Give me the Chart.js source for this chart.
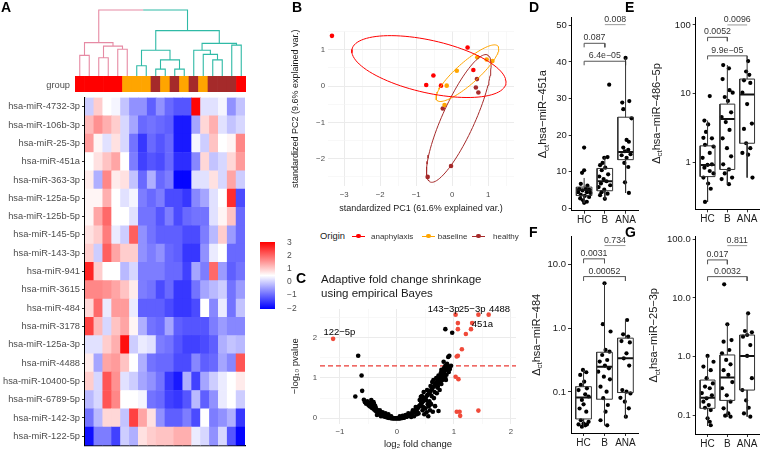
<!DOCTYPE html>
<html>
<head>
<meta charset="utf-8">
<script src="https://cdn.jsdelivr.net/npm/chart.js@4.4.0/dist/chart.umd.min.js"></script>
<style>
  body { margin: 0; width: 763px; height: 453px; background: #fff; position: relative; overflow: hidden;
         font-family: "Liberation Sans", Arial, sans-serif; }
  .c { position: absolute; }
  .t { position: absolute; white-space: nowrap; line-height: 12px; }
  .letter { position: absolute; font-weight: bold; font-size: 14px; line-height: 14px; color: #000; }
  .g { position: absolute; }
</style>
</head>
<body>
<canvas class="c" id="dendro" width="171" height="67" style="left:75px;top:9px"></canvas>
<canvas class="c" id="groupBar" width="171" height="16" style="left:75px;top:76px"></canvas>
<canvas class="c" id="heat" width="250" height="363" style="left:0px;top:90px"></canvas>
<canvas class="c" id="heatLegend" width="45" height="85" style="left:255px;top:233px"></canvas>
<canvas class="c" id="pca" width="230" height="200" style="left:290px;top:20px"></canvas>
<canvas class="c" id="volcano" width="230" height="153" style="left:290px;top:300px"></canvas>
<canvas class="c" id="boxD" width="117" height="215" style="left:525px;top:10px"></canvas>
<canvas class="c" id="boxE" width="118" height="215" style="left:645px;top:10px"></canvas>
<canvas class="c" id="boxF" width="117" height="225" style="left:525px;top:228px"></canvas>
<canvas class="c" id="boxG" width="118" height="225" style="left:645px;top:228px"></canvas>

<div class="t" style="left:30px;top:78.5px;width:40px;text-align:right;font-size:9.3px;color:#4d4d4d">group</div>

<!-- PCA legend -->
<div class="t" style="left:320px;top:230px;font-size:9.4px;color:#1a1a1a">Origin</div>
<div class="g" style="left:351.7px;top:235.5px;width:13.3px;height:1px;background:#ff0000"></div>
<div class="g" style="left:356.3px;top:233.7px;width:4.6px;height:4.6px;border-radius:50%;background:#ff0000"></div>
<div class="t" style="left:371px;top:230.5px;font-size:8px;color:#333">anaphylaxis</div>
<div class="g" style="left:421.7px;top:235.5px;width:13.3px;height:1px;background:#ffa500"></div>
<div class="g" style="left:426.3px;top:233.7px;width:4.6px;height:4.6px;border-radius:50%;background:#ffa500"></div>
<div class="t" style="left:437.7px;top:230.5px;font-size:8px;color:#333">baseline</div>
<div class="g" style="left:471.7px;top:235.5px;width:13.3px;height:1px;background:#a52a2a"></div>
<div class="g" style="left:476.3px;top:233.7px;width:4.6px;height:4.6px;border-radius:50%;background:#a52a2a"></div>
<div class="t" style="left:493px;top:230.5px;font-size:8px;color:#333">healthy</div>

<div class="t" style="left:321px;top:272px;font-size:11.5px;line-height:14px;color:#1a1a1a">Adaptive fold change shrinkage<br>using empirical Bayes</div>

<div class="letter" style="left:1px;top:0px">A</div>
<div class="letter" style="left:292px;top:0px">B</div>
<div class="letter" style="left:296px;top:271px">C</div>
<div class="letter" style="left:529px;top:0px">D</div>
<div class="letter" style="left:625px;top:0px">E</div>
<div class="letter" style="left:529px;top:225px">F</div>
<div class="letter" style="left:625px;top:225px">G</div>

<script>
// --- A: heatmap data ---
const heatRows = ['hsa-miR-4732-3p', 'hsa-miR-106b-3p', 'hsa-miR-25-3p', 'hsa-miR-451a', 'hsa-miR-363-3p',
  'hsa-miR-125a-5p', 'hsa-miR-125b-5p', 'hsa-miR-145-5p', 'hsa-miR-143-3p', 'hsa-miR-941', 'hsa-miR-3615',
  'hsa-miR-484', 'hsa-miR-3178', 'hsa-miR-125a-3p', 'hsa-miR-4488', 'hsa-miR-10400-5p', 'hsa-miR-6789-5p',
  'hsa-miR-142-3p', 'hsa-miR-122-5p'];
const heatGroups = ['anaphylaxis', 'anaphylaxis', 'anaphylaxis', 'anaphylaxis', 'anaphylaxis', 'baseline',
  'baseline', 'baseline', 'healthy', 'baseline', 'healthy', 'baseline', 'healthy', 'baseline', 'healthy',
  'healthy', 'healthy', 'anaphylaxis'];
const heatValues = [
  [0, 1, 0.5, 0.4, -0.1, -0.6, -0.6, -1.1, -0.6, -1.0, -1.2, -1.2, 3, 0.2, 0.2, 0.4, -0.6, -0.1],
  [1.2, 1.6, 1.3, 1.0, 0.1, -0.4, -1.0, -0.9, -1.0, -1.1, -1.8, -1.8, -0.4, 0.9, 1.3, 0.2, -0.1, 0.1],
  [1.5, 0.6, 0.2, 0.8, 0.1, -0.9, -1.5, -1.0, -1.2, -1.0, -1.8, -1.8, 0.4, 0.0, 1.1, 0.5, 0.6, 1.7],
  [0.5, 0.8, 1.1, 1.4, 0.5, -0.8, -1.4, -1.2, -1.3, -1.0, -1.6, -1.6, -0.7, 0.9, -0.1, 0.1, 0.9, 1.5],
  [0.7, -0.3, 1.7, 0.7, 0.8, -0.1, -1.0, -0.3, -1.0, -0.8, -2.0, -2.0, 0.2, 0.2, 0.8, 0.1, 1.4, 0.0],
  [0.6, 0.6, 1.3, 0.5, 0.2, 0.4, -0.8, -1.0, -0.8, -1.3, -1.3, -1.5, -0.7, -0.4, 0.2, 0.5, 2.6, -1.3],
  [0.6, 1.4, 2.0, 0.5, 0.5, 0.2, -0.9, -0.9, -1.2, -0.8, -1.3, -1.0, -0.9, -0.9, 0.2, 0.6, 1.1, -1.0],
  [0.8, 1.0, 1.8, 0.3, 0.0, 2.1, -0.6, -0.9, -1.1, -1.1, -1.1, -1.3, -1.3, -0.8, -0.2, 1.0, -0.5, -1.0],
  [1.0, 0.0, 2.1, 1.4, 1.0, 1.0, -0.6, -0.8, -0.6, -1.0, -1.1, -1.5, -1.5, -0.6, 0.3, 0.5, -1.0, -1.0],
  [2.7, 1.0, 0.5, 0.5, -0.2, 0.1, -0.8, -0.8, -0.8, -1.0, -1.0, -1.4, -0.4, -0.8, 2.0, -0.5, -1.1, -0.9],
  [1.7, 1.7, 1.6, 1.4, 1.1, 0.7, -0.8, -0.9, -1.3, -1.0, -1.5, -1.5, -0.9, -0.4, -0.2, 0.0, -0.9, -0.5],
  [0.9, 2.0, 0.3, 1.5, 1.5, 0.3, -1.1, -1.1, -1.1, -1.3, -1.5, -1.5, -1.3, 0.5, -0.7, 0.3, -0.9, -0.1],
  [2.4, 1.2, 0.1, 1.1, 1.4, 0.6, -0.3, -0.9, -1.0, -0.4, -1.1, -1.2, -1.2, -1.2, -0.8, -0.5, -0.7, -0.7],
  [0.2, 0.2, 1.0, 1.3, 2.9, 0.0, 0.3, 0.2, -0.8, -0.9, -1.2, -1.4, -1.4, -1.3, -1.1, -0.3, -0.1, -0.2],
  [0.7, -0.4, 1.4, 1.5, 1.1, 0.5, -0.3, -0.9, -1.0, -1.0, -1.3, -1.3, -0.7, -1.1, -1.0, -0.4, -0.7, 2.2],
  [1.0, 0.1, 2.2, 1.6, 0.2, 0.0, -0.4, -0.6, -0.9, -1.5, -1.8, -0.3, -1.4, -0.4, 0.0, 0.3, 0.5, 0.7],
  [-0.2, 0.1, 2.2, 1.7, 0.5, 0.5, 0.4, -0.9, -1.0, -1.4, -1.5, -1.2, -0.2, -1.1, -0.6, 0.3, 0.5, 0.0],
  [-0.9, -0.2, 0.9, 0.9, -0.1, 2.4, 1.4, 0.8, -0.6, -1.1, -1.1, -0.8, -1.3, 0.5, -0.8, -0.6, -0.3, -1.5],
  [-1.9, -0.8, -0.8, -1.4, 0.0, -0.3, 0.8, 1.0, 1.1, 1.1, 1.3, 1.3, 0.3, 0.1, -0.6, 0.1, -1.2, -2.0]
];
const heatLo = -2.05, heatHi = 3.05;
const heatLegendTicks = [-2, -1, 0, 1, 2, 3];
// column dendrogram, hclust style: negative = leaf (1-based), positive = earlier merge
const dendroMerges = [
  [-1, -2, 60], [-3, -4, 53], [-5, -6, 78], [2, 3, 87], [1, 4, 97],
  [-7, -8, 30], [-9, -10, 20], [-11, -12, 20], [7, 8, 47], [6, 9, 75],
  [-15, -16, 47], [-14, 11, 63], [-13, 12, 75], [-17, -18, 90], [13, 14, 95],
  [10, 15, 132], [5, 16, 192]
];

// --- B: PCA scores ---
const anaPC1 = [-3.34, -0.72, -0.52, -0.31, 0.43, 0.59];
const anaPC2 = [1.38, 0.03, 0.29, 0.01, 1.06, 0.44];
const basePC1 = [-0.15, 0.13, 0.70, 0.96, 1.12, -0.21];
const basePC2 = [0.01, 0.42, 0.79, 0.73, 0.69, -0.52];
const healthyPC1 = [0.69, 0.66, 0.73, -0.26, -0.03, -0.68];
const healthyPC2 = [0.19, -0.04, -0.18, -0.62, -2.20, -2.50];
const ellipseProb = 0.68;

// --- C: volcano (log2 fold change, -log10 p) ---
const volcBlack = [
  [-0.73, 0.54], [-0.68, 1.55], [-0.62, 1.06], [-0.61, 0.68], [-0.58, 0.46], [-0.56, 0.40], [-0.54, 0.36],
  [-0.52, 0.42], [-0.50, 0.33], [-0.48, 0.30], [-0.47, 0.38], [-0.45, 0.27], [-0.44, 0.33], [-0.43, 0.25],
  [-0.42, 0.30], [-0.41, 0.40], [-0.40, 0.22], [-0.39, 0.28], [-0.38, 0.19], [-0.37, 0.25], [-0.36, 0.17],
  [-0.35, 0.21], [-0.34, 0.15], [-0.33, 0.12], [-0.32, 0.18], [-0.31, 0.11], [-0.30, 0.14], [-0.29, 0.09],
  [-0.28, 0.12], [-0.27, 0.08], [-0.26, 0.10], [-0.25, 0.06], [-0.24, 0.08], [-0.23, 0.05], [-0.22, 0.07],
  [-0.21, 0.04], [-0.20, 0.05], [-0.19, 0.03], [-0.18, 0.04], [-0.17, 0.02], [-0.16, 0.03], [-0.15, 0.02],
  [-0.14, 0.01], [-0.13, 0.02], [-0.12, 0.01], [-0.11, 0.01], [-0.10, 0.00], [-0.09, 0.01], [-0.08, 0.00],
  [-0.07, 0.00], [-0.06, 0.00], [-0.05, 0.00], [-0.04, 0.00], [-0.03, 0.00], [-0.02, 0.00], [-0.01, 0.00],
  [0.00, 0.00], [0.01, 0.00], [0.02, 0.00], [0.03, 0.00], [0.04, 0.00], [0.05, 0.00], [0.06, 0.00],
  [0.07, 0.01], [0.08, 0.01], [0.09, 0.01], [0.10, 0.01], [0.11, 0.02], [0.12, 0.02], [0.13, 0.02],
  [0.14, 0.03], [0.15, 0.03], [0.16, 0.04], [0.17, 0.04], [0.18, 0.05], [0.19, 0.06], [0.20, 0.06],
  [0.21, 0.07], [0.22, 0.08], [0.23, 0.09], [0.24, 0.10], [0.25, 0.11], [0.26, 0.12], [0.27, 0.13],
  [0.28, 0.14], [0.29, 0.15], [0.30, 0.16], [0.31, 0.18], [0.32, 0.19], [0.33, 0.20], [0.34, 0.22],
  [0.35, 0.23], [0.36, 0.25], [0.37, 0.26], [0.38, 0.28], [0.39, 0.30], [0.40, 0.31], [0.41, 0.33],
  [0.42, 0.35], [0.43, 0.37], [0.44, 0.39], [0.45, 0.41], [0.46, 0.43], [0.47, 0.45], [0.48, 0.47],
  [0.49, 0.49], [0.50, 0.51], [0.52, 0.55], [0.54, 0.58], [0.56, 0.62], [0.58, 0.66], [0.60, 0.70],
  [0.62, 0.74], [0.64, 0.78], [0.66, 0.82], [0.68, 0.86], [0.70, 0.90], [0.72, 0.94], [0.74, 0.98],
  [0.76, 1.02], [0.78, 1.06], [0.80, 1.10], [0.82, 1.14], [0.84, 1.18], [0.86, 1.22], [0.88, 1.26],
  [0.90, 1.29], [0.30, 0.05], [0.35, 0.10], [0.38, 0.12], [0.40, 0.45], [0.42, 0.53], [0.44, 0.55],
  [0.45, 0.20], [0.46, 0.28], [0.47, 0.65], [0.48, 0.10], [0.50, 0.25], [0.51, 0.45], [0.52, 0.15],
  [0.53, 0.70], [0.54, 0.35], [0.55, 0.05], [0.56, 0.30], [0.57, 0.62], [0.57, 0.42], [0.58, 0.20],
  [0.59, 0.80], [0.60, 0.35], [0.61, 0.55], [0.62, 0.90], [0.63, 0.16], [0.64, 0.95], [0.65, 0.50],
  [0.66, 0.65], [0.67, 0.30], [0.69, 1.00], [0.70, 0.62], [0.71, 0.76], [0.72, 0.80], [0.73, 0.18],
  [0.73, 1.06], [0.74, 0.88], [0.75, 0.70], [0.76, 0.92], [0.77, 1.12], [0.78, 0.85], [0.78, 1.20],
  [0.79, 1.00], [0.80, 0.95], [0.81, 1.16], [0.82, 1.40], [0.83, 1.25], [0.84, 1.05], [0.85, 1.00],
  [0.85, 1.30], [0.86, 0.95], [0.87, 1.08], [0.88, 1.35], [0.89, 1.20], [0.90, 1.52], [0.91, 1.15],
  [0.92, 1.55], [0.93, 1.22], [0.95, 1.30], [0.85, 2.21], [0.97, 2.12], [-0.30, 0.20], [-0.40, 0.35],
  [-0.25, 0.15], [-0.15, 0.10], [0.10, 0.06], [0.20, 0.12], [0.25, 0.03], [-0.35, 0.08], [-0.20, 0.12],
  [-0.45, 0.45], [-0.50, 0.38], [-0.38, 0.30], [-0.28, 0.05], [-0.10, 0.05], [0.05, 0.05], [0.15, 0.08],
  [0.28, 0.20], [0.33, 0.28], [0.36, 0.15]
];
const volcRed = [
  [-1.12, 1.97], [1.03, 2.57], [1.43, 2.57], [1.61, 2.57], [1.32, 2.36], [1.07, 2.36], [1.07, 2.21],
  [1.30, 2.21], [1.21, 2.09], [1.14, 1.71], [1.07, 1.55], [1.05, 1.53], [1.03, 1.03], [1.08, 0.97],
  [1.05, 0.16], [1.10, 0.16], [1.43, 0.19], [1.11, 0.06]
];
const volcLabels = ['122\u22125p', '143\u22123p', '25\u22123p', '4488', '451a'];
const volcLabelX = [-1.01, 0.82, 1.32, 1.80, 1.50];
const volcLabelY = [2.12, 2.71, 2.71, 2.71, 2.32];
const volcAlpha = 0.05;

// --- D-G: box plots ---
const boxCats = ['HC', 'B', 'ANA'];

const dTicks = [0, 10, 20, 30, 40, 50];
const dTickLabels = ['0', '10', '20', '30', '40', '50'];
const dLo = [1.5, 2.6, 4.2], dQ1 = [3.5, 4.8, 13.3], dMed = [5.1, 7.4, 15.4], dQ3 = [5.8, 10.9, 24.9], dHi = [8.3, 14.0, 41.1];
const dHcVal = [16.6, 10.4, 9.7, 6.7, 6.2, 5.3, 5.3, 5.1, 4.9, 4.4, 4.4, 4.2, 3.7, 3.4, 3.1, 2.7, 2.2, 1.8, 1.5];
const dHcJit = [0, 0, -0.1, -0.16, 0.16, -0.24, 0.08, 0.24, -0.08, -0.29, 0.13, 0.3, -0.16, 0.03, 0.24, -0.19, -0.05, 0.13, 0];
const dBVal = [33.8, 14.0, 13.8, 12.4, 11.8, 11.1, 10.4, 9.3, 8.7, 8.0, 7.4, 6.8, 6.3, 5.8, 5.1, 4.4, 4.0, 3.6, 2.6];
const dBJit = [0.21, 0.13, -0.03, -0.11, -0.23, 0.02, -0.15, 0.16, -0.27, -0.06, 0.08, -0.19, 0.26, -0.3, -0.03, -0.16, 0.13, -0.23, 0];
const dAnaVal = [41.1, 28.9, 29.3, 27.1, 24.6, 18.7, 18.2, 16.6, 16.0, 15.6, 14.8, 14.5, 13.8, 12.4, 11.3, 7.1, 4.2];
const dAnaJit = [0, -0.16, 0.18, -0.11, 0.29, 0.05, 0.16, -0.11, 0.13, -0.03, 0.24, -0.19, 0.05, -0.06, 0.13, -0.03, 0.16];
const dBrkFrom = [1, 1, 2], dBrkTo = [2, 3, 3];
const dBrkY = [45.1, 40.2, 50.2], dBrkTip = [44.0, 39.1, 50.2];
const dBrkText = ['0.087', '6.4e\u221205', '0.008'];

const eTicks = [1, 10, 100];
const eTickLabels = ['1', '10', '100'];
const eLo = [0.27, 0.49, 0.61], eQ1 = [0.63, 0.80, 1.92], eMed = [0.93, 4.3, 9.8], eQ3 = [1.76, 7.1, 16.4], eHi = [4.1, 26.2, 29.9];
const eHcVal = [9.3, 4.1, 3.6, 2.8, 2.3, 2.26, 1.82, 1.72, 1.39, 1.18, 0.95, 0.93, 0.85, 0.76, 0.70, 0.61, 0.50, 0.42, 0.27];
const eHcJit = [0.11, -0.16, 0.03, -0.08, -0.21, 0.22, -0.13, 0.3, 0.11, -0.25, 0.22, 0, -0.16, 0.11, 0.3, -0.21, 0.03, 0.16, -0.13];
const eBVal = [26.2, 23.5, 16.4, 11.3, 10.4, 9.0, 7.9, 5.4, 4.6, 3.9, 3.0, 2.26, 1.63, 1.24, 0.95, 0.80, 0.70, 0.61, 0.58, 0.49];
const eBJit = [-0.21, 0.08, -0.24, 0.11, 0.27, -0.13, 0.03, 0.19, -0.29, -0.08, 0.11, -0.24, -0.02, 0.19, -0.21, 0.08, -0.13, 0.24, -0.29, 0.08];
const eAnaVal = [29.9, 21.1, 18.9, 15.7, 14.4, 10.4, 7.1, 3.7, 3.1, 1.92, 1.63, 1.39, 1.31, 0.61];
const eAnaJit = [0.05, -0.05, 0.11, -0.16, 0.16, -0.24, 0, 0.24, -0.16, -0.05, 0.16, -0.24, 0.05, 0.27];
const eBrkFrom = [1, 1, 2], eBrkTo = [2, 3, 3];
const eBrkY = [66.1, 35.6, 100], eBrkTip = [58.1, 31.6, 100];
const eBrkText = ['0.0052', '9.9e\u221205', '0.0096'];

const fTicks = [0.1, 1, 10];
const fTickLabels = ['0.1', '1.0', '10.0'];
const fLo = [0.0285, 0.030, 0.040], fQ1 = [0.0377, 0.077, 0.098], fMed = [0.082, 0.25, 0.34], fQ3 = [0.121, 0.42, 0.70], fHi = [0.222, 5.09, 1.38];
const fHcVal = [0.222, 0.204, 0.185, 0.145, 0.129, 0.114, 0.107, 0.092, 0.085, 0.075, 0.064, 0.055, 0.049, 0.036, 0.034, 0.032, 0.031, 0.030, 0.0285, 0.031];
const fHcJit = [-0.03, 0.13, -0.16, 0.03, -0.13, 0.16, -0.24, 0.08, 0.24, -0.08, 0, -0.19, 0.13, -0.13, 0.24, 0, -0.24, 0.08, -0.08, 0.16];
const fBVal = [5.09, 1.16, 0.89, 0.457, 0.43, 0.381, 0.318, 0.30, 0.26, 0.235, 0.208, 0.174, 0.158, 0.121, 0.101, 0.080, 0.0625, 0.049, 0.036, 0.030];
const fBJit = [0, -0.08, 0.29, 0.05, 0.24, -0.11, 0.13, -0.23, 0.02, 0.21, -0.3, -0.03, 0.26, -0.19, 0.1, -0.06, 0.16, 0.05, -0.19, 0.13];
const fAnaVal = [1.35, 0.805, 0.74, 0.63, 0.60, 0.405, 0.338, 0.26, 0.107, 0.101, 0.095, 0.081, 0.0705, 0.0553, 0.041];
const fAnaJit = [0.08, -0.11, 0.13, -0.19, 0.21, 0.05, -0.08, 0.18, -0.15, 0.05, 0.24, -0.24, -0.03, 0.16, 0.02];
const fBrkFrom = [1, 1, 2], fBrkTo = [2, 3, 3];
const fBrkY = [12.3, 6.48, 19.9], fBrkTip = [10.5, 5.53, 19.9];
const fBrkText = ['0.0031', '0.00052', '0.734'];

const gTicks = [0.1, 1, 10, 100];
const gTickLabels = ['0.1', '1.0', '10.0', '100.0'];
const gLo = [0.066, 0.095, 0.095], gQ1 = [0.132, 0.18, 0.27], gMed = [0.20, 0.44, 1.03], gQ3 = [0.40, 1.07, 2.34], gHi = [1.03, 3.56, 5.48];
const gHcVal = [1.03, 0.82, 0.68, 0.59, 0.43, 0.35, 0.31, 0.29, 0.24, 0.22, 0.195, 0.171, 0.150, 0.135, 0.123, 0.089, 0.078, 0.068];
const gHcJit = [0, 0.3, -0.21, 0.16, -0.05, 0.27, -0.13, 0.11, -0.29, 0.22, -0.05, -0.21, 0.06, -0.13, 0.16, 0, 0.11, 0.16];
const gBVal = [17.1, 3.56, 1.92, 1.80, 1.30, 1.14, 0.88, 0.74, 0.59, 0.49, 0.37, 0.29, 0.22, 0.171, 0.132, 0.108, 0.099, 0.095];
const gBJit = [-0.16, 0, 0.21, -0.19, 0.1, -0.27, -0.06, 0.16, -0.19, 0.05, 0.25, -0.27, -0.03, 0.16, -0.19, 0.05, -0.11, 0.16];
const gAnaVal = [5.48, 2.74, 2.60, 2.34, 2.19, 1.58, 1.03, 0.43, 0.27, 0.18, 0.135, 0.108, 0.095];
const gAnaJit = [0.05, -0.11, 0.24, 0, -0.21, 0.16, 0, 0.24, -0.24, -0.05, 0.08, -0.16, 0.16];
const gBrkFrom = [1, 1, 2], gBrkTo = [2, 3, 3];
const gBrkY = [44.5, 23.1, 78.0], gBrkTip = [37.5, 19.5, 78.0];
const gBrkText = ['0.017', '0.0032', '0.811'];

// --- shared setup ---
const FONT = '"Liberation Sans", Arial, sans-serif';
Chart.defaults.font.family = FONT;
Chart.defaults.animation = false;
Chart.defaults.responsive = false;
Chart.defaults.plugins.legend.display = false;
Chart.defaults.plugins.tooltip.enabled = false;

const groupColors = { anaphylaxis: '#ff0000', baseline: '#ffa500', healthy: '#a52a2a' };
const fmt = v => (v < 0 ? '\u2212' + Math.abs(v) : String(v));

// text at data coordinates
const dataText = {
  id: 'dataText',
  afterDatasetsDraw(chart, args, opts) {
    if (!opts.items) return;
    const { ctx, scales: { x, y } } = chart;
    ctx.save();
    opts.items.forEach(it => {
      ctx.font = `${it.size}px ${FONT}`;
      ctx.fillStyle = it.color || '#000';
      ctx.textAlign = it.align || 'center';
      ctx.textBaseline = it.baseline || 'middle';
      ctx.fillText(it.text, x.getPixelForValue(it.x), y.getPixelForValue(it.y) + (it.dy || 0));
    });
    ctx.restore();
  }
};
// rotated "Δct <name>" axis title
const deltaTitle = {
  id: 'deltaTitle',
  afterDraw(chart, args, opts) {
    if (!opts.text) return;
    const { ctx, chartArea } = chart;
    const cy = (chartArea.top + chartArea.bottom) / 2;
    const big = `${opts.size}px ${FONT}`, small = `${opts.size * 0.72}px ${FONT}`;
    ctx.save();
    ctx.translate(opts.x, cy);
    ctx.rotate(-Math.PI / 2);
    ctx.fillStyle = '#1a1a1a';
    ctx.textBaseline = 'middle';
    ctx.textAlign = 'left';
    ctx.font = big;
    const w1 = ctx.measureText('\u0394').width, w3 = ctx.measureText(opts.text).width;
    ctx.font = small;
    const w2 = ctx.measureText('ct').width;
    let x = -(w1 + w2 + w3) / 2;
    ctx.font = big; ctx.fillText('\u0394', x, 0); x += w1;
    ctx.font = small; ctx.fillText('ct', x, opts.size * 0.3); x += w2;
    ctx.font = big; ctx.fillText(opts.text, x, 0);
    ctx.restore();
  }
};
Chart.register(dataText, deltaTitle);

// colour scale blue - white - red
const heatStops = [[0, 0, 255], [255, 255, 255], [255, 0, 0]];
function heatColor(v) {
  const t = Math.max(0, Math.min(1, (v - heatLo) / (heatHi - heatLo)));
  const [a, b, f] = t < 0.5 ? [heatStops[0], heatStops[1], t / 0.5] : [heatStops[1], heatStops[2], (t - 0.5) / 0.5];
  const c = a.map((va, i) => Math.round(va + (b[i] - va) * f));
  return `rgb(${c[0]},${c[1]},${c[2]})`;
}

// ---------- A: dendrogram ----------
const nMerge = dendroMerges.length;
const mergeX = [], mergeH = [];
const dNode = id => (id < 0 ? { x: -id - 1, h: 0 } : { x: mergeX[id - 1], h: mergeH[id - 1] });
dendroMerges.forEach(([a, b, h], k) => { mergeX[k] = (dNode(a).x + dNode(b).x) / 2; mergeH[k] = h; });
const clusterOf = new Array(nMerge).fill(null);
const rootK = nMerge - 1;
if (dendroMerges[rootK][0] > 0) clusterOf[dendroMerges[rootK][0] - 1] = 0;
if (dendroMerges[rootK][1] > 0) clusterOf[dendroMerges[rootK][1] - 1] = 1;
for (let k = nMerge - 2; k >= 0; k--) {
  const [a, b] = dendroMerges[k];
  if (a > 0) clusterOf[a - 1] = clusterOf[k];
  if (b > 0) clusterOf[b - 1] = clusterOf[k];
}
const dendroPts = [[], []];
dendroMerges.forEach(([a, b, h], k) => {
  const A = dNode(a), B = dNode(b);
  if (k === rootK) {
    const mid = (A.x + B.x) / 2;
    dendroPts[0].push({ x: A.x, y: A.h }, { x: A.x, y: h }, { x: mid, y: h }, { x: mid, y: null });
    dendroPts[1].push({ x: mid, y: h }, { x: B.x, y: h }, { x: B.x, y: B.h }, { x: B.x, y: null });
  } else {
    dendroPts[clusterOf[k]].push({ x: A.x, y: A.h }, { x: A.x, y: h }, { x: B.x, y: h }, { x: B.x, y: B.h }, { x: B.x, y: null });
  }
});
new Chart(document.getElementById('dendro'), {
  type: 'scatter',
  data: {
    datasets: dendroPts.map((pts, i) => ({
      data: pts, showLine: true, pointRadius: 0, borderWidth: 1.1,
      borderColor: i === 0 ? '#e68aa4' : '#2fbaa6', spanGaps: false
    }))
  },
  options: {
    layout: { padding: 0 },
    scales: {
      x: { display: false, min: -0.5, max: heatGroups.length - 0.5 },
      y: { display: false, min: 0, max: 195 }
    }
  }
});

// ---------- A: group bar ----------
new Chart(document.getElementById('groupBar'), {
  type: 'bar',
  data: {
    labels: heatGroups.map((g, i) => i),
    datasets: [{ data: heatGroups.map(() => [0, 1]), backgroundColor: heatGroups.map(g => groupColors[g]), borderWidth: 0 }]
  },
  options: {
    layout: { padding: 0 },
    datasets: { bar: { barPercentage: 1, categoryPercentage: 1 } },
    scales: { x: { display: false }, y: { display: false, min: 0, max: 1 } }
  }
});

// ---------- A: heatmap ----------
new Chart(document.getElementById('heat'), {
  type: 'bar',
  data: {
    labels: heatGroups.map((g, i) => i),
    datasets: heatRows.map((name, r) => ({
      label: name,
      data: heatValues[r].map(() => 1),
      backgroundColor: heatValues[r].map(heatColor),
      borderWidth: 0
    })).reverse()
  },
  options: {
    layout: { padding: { top: 4, right: 5, bottom: 2, left: 0 } },
    datasets: { bar: { barPercentage: 1, categoryPercentage: 1 } },
    scales: {
      x: {
        stacked: true, ticks: { display: false }, grid: { display: false, drawTicks: false },
        border: { display: true, color: '#000', width: 1.2 },
        afterFit: s => { s.height = 0; }
      },
      y: {
        stacked: true, min: 0, max: heatRows.length,
        afterBuildTicks: s => { s.ticks = heatRows.map((_, i) => ({ value: i + 0.5 })); },
        afterFit: s => { s.width = 85; },
        ticks: {
          autoSkip: false, padding: 2, color: '#4d4d4d', font: { size: 9.3 },
          callback: (v, i) => heatRows[heatRows.length - 1 - i]
        },
        grid: { display: true, drawOnChartArea: false, drawTicks: true, tickLength: 3, color: '#333' },
        border: { display: true, color: '#000', width: 1.2 }
      }
    }
  }
});

// ---------- A: colour legend ----------
new Chart(document.getElementById('heatLegend'), {
  type: 'bar',
  data: {
    labels: [''],
    datasets: [{
      data: [[heatLo, heatHi]],
      borderWidth: 0,
      backgroundColor: ctx => {
        const { chart } = ctx;
        if (!chart.chartArea) return '#fff';
        const ys = chart.scales.y;
        const grad = chart.ctx.createLinearGradient(0, ys.getPixelForValue(heatLo), 0, ys.getPixelForValue(heatHi));
        for (let i = 0; i <= 20; i++) grad.addColorStop(i / 20, heatColor(heatLo + (heatHi - heatLo) * i / 20));
        return grad;
      }
    }]
  },
  options: {
    layout: { padding: { left: 5, top: 5, bottom: 5, right: 0 } },
    datasets: { bar: { barPercentage: 1, categoryPercentage: 1 } },
    scales: {
      x: { display: false },
      y: {
        position: 'right', min: heatLo, max: heatHi,
        afterBuildTicks: s => { s.ticks = heatLegendTicks.map(v => ({ value: v })); },
        afterFit: s => { s.width = 25; },
        ticks: { callback: v => fmt(v), color: '#4d4d4d', font: { size: 8.5 }, padding: 4 },
        grid: { display: false }, border: { display: false }
      }
    }
  }
});

// ---------- B: PCA ----------
function dataEllipse(xs, ys) {
  const n = xs.length;
  const mx = xs.reduce((s, v) => s + v, 0) / n, my = ys.reduce((s, v) => s + v, 0) / n;
  let sxx = 0, syy = 0, sxy = 0;
  for (let i = 0; i < n; i++) {
    sxx += (xs[i] - mx) ** 2; syy += (ys[i] - my) ** 2; sxy += (xs[i] - mx) * (ys[i] - my);
  }
  sxx /= n - 1; syy /= n - 1; sxy /= n - 1;
  const r = Math.sqrt(-2 * Math.log(1 - ellipseProb));
  const a = Math.sqrt(sxx), b = sxy / a, c = Math.sqrt(syy - b * b);
  const pts = [];
  for (let i = 0; i <= 100; i++) {
    const t = 2 * Math.PI * i / 100, u = Math.cos(t), v = Math.sin(t);
    pts.push({ x: mx + r * u * a, y: my + r * (u * b + v * c) });
  }
  return pts;
}
const pcaSets = [
  [anaPC1, anaPC2, groupColors.anaphylaxis],
  [basePC1, basePC2, groupColors.baseline],
  [healthyPC1, healthyPC2, groupColors.healthy]
];
const gridColor = c => (Math.abs(c.tick.value - Math.round(c.tick.value)) < 1e-6 ? '#ebebeb' : '#f4f4f4');
const gridWidth = c => (Math.abs(c.tick.value - Math.round(c.tick.value)) < 1e-6 ? 1 : 0.6);
const intLabel = v => (Math.abs(v - Math.round(v)) < 1e-6 ? fmt(Math.round(v)) : '');
const halfTicks = (lo, hi) => { const t = []; for (let v = Math.ceil(lo * 2) / 2; v <= hi + 1e-9; v += 0.5) t.push({ value: v }); return t; };

new Chart(document.getElementById('pca'), {
  type: 'scatter',
  data: {
    datasets: [
      ...pcaSets.map(([xs, ys, col]) => ({ data: dataEllipse(xs, ys), showLine: true, pointRadius: 0, borderColor: col, borderWidth: 1 })),
      ...pcaSets.map(([xs, ys, col]) => ({ data: xs.map((x, i) => ({ x, y: ys[i] })), pointRadius: 2.3, backgroundColor: col, borderWidth: 0 }))
    ]
  },
  options: {
    layout: { padding: { top: 11.5, right: 6, bottom: 4, left: 0 } },
    scales: {
      x: {
        min: -3.45, max: 1.72,
        afterBuildTicks: s => { s.ticks = halfTicks(-3.45, 1.72); },
        afterFit: s => { s.height = 30; },
        ticks: { callback: intLabel, autoSkip: false, maxRotation: 0, color: '#4d4d4d', font: { size: 7.8 }, padding: 4 },
        grid: { color: gridColor, lineWidth: gridWidth, drawTicks: false },
        border: { display: false },
        title: { display: true, text: 'standardized PC1 (61.6% explained var.)', color: '#1a1a1a', font: { size: 9 }, padding: { top: 0, bottom: 2 } }
      },
      y: {
        min: -2.75, max: 1.5,
        afterBuildTicks: s => { s.ticks = halfTicks(-2.75, 1.5); },
        afterFit: s => { s.width = 38; },
        ticks: { callback: intLabel, autoSkip: false, color: '#4d4d4d', font: { size: 7.8 }, padding: 3 },
        grid: { color: gridColor, lineWidth: gridWidth, drawTicks: false },
        border: { display: false },
        title: { display: true, text: 'standardized PC2 (9.6% explained var.)', color: '#1a1a1a', font: { size: 9 }, padding: { top: 0, bottom: 4 } }
      }
    }
  }
});

// ---------- C: volcano ----------
const volcXMin = -1.35, volcXMax = 2.09, volcYMin = -0.13, volcYMax = 2.71;
const volcCut = -Math.log10(volcAlpha);
new Chart(document.getElementById('volcano'), {
  type: 'scatter',
  data: {
    datasets: [
      { data: volcBlack.map(([x, y]) => ({ x, y })), pointRadius: 2.3, backgroundColor: '#000', borderWidth: 0 },
      { data: volcRed.map(([x, y]) => ({ x, y })), pointRadius: 2.3, backgroundColor: '#f04a3a', borderWidth: 0 },
      { data: [{ x: volcXMin, y: volcCut }, { x: volcXMax, y: volcCut }], showLine: true, pointRadius: 0,
        borderColor: '#ea3a34', borderWidth: 1.2, borderDash: [5, 3] }
    ]
  },
  options: {
    layout: { padding: { top: 9, right: 3, bottom: 2.5, left: 0 } },
    plugins: {
      dataText: { items: volcLabels.map((t, i) => ({ text: t, x: volcLabelX[i], y: volcLabelY[i], size: 9.5, color: '#000' })) }
    },
    scales: {
      x: {
        min: volcXMin, max: volcXMax,
        afterBuildTicks: s => { s.ticks = halfTicks(volcXMin, volcXMax); },
        afterFit: s => { s.height = 27; },
        ticks: { callback: intLabel, autoSkip: false, maxRotation: 0, color: '#4d4d4d', font: { size: 7.8 }, padding: 4 },
        grid: { color: gridColor, lineWidth: gridWidth, drawTicks: false },
        border: { display: false },
        title: { display: true, text: 'log\u2082 fold change', color: '#1a1a1a', font: { size: 9.5 }, padding: { top: 0, bottom: 0 } }
      },
      y: {
        min: volcYMin, max: volcYMax,
        afterBuildTicks: s => { s.ticks = halfTicks(volcYMin, volcYMax); },
        afterFit: s => { s.width = 30; },
        ticks: { callback: intLabel, autoSkip: false, color: '#4d4d4d', font: { size: 7.8 }, padding: 3 },
        grid: { color: gridColor, lineWidth: gridWidth, drawTicks: false },
        border: { display: false },
        title: { display: true, text: '\u2212log\u2081\u2080 pvalue', color: '#1a1a1a', font: { size: 9.5 }, padding: { top: 0, bottom: 2 } }
      }
    }
  }
});

// ---------- D-G: box plots ----------
const boxHalf = 0.375;
function boxChart(id, p) {
  const boxPts = [], medPts = [], whPts = [], brkPts = [], topPts = [];
  for (let i = 0; i < 3; i++) {
    const c = i + 1;
    boxPts.push({ x: c - boxHalf, y: p.q1[i] }, { x: c + boxHalf, y: p.q1[i] }, { x: c + boxHalf, y: p.q3[i] },
      { x: c - boxHalf, y: p.q3[i] }, { x: c - boxHalf, y: p.q1[i] }, { x: c, y: null });
    medPts.push({ x: c - boxHalf, y: p.med[i] }, { x: c + boxHalf, y: p.med[i] }, { x: c, y: null });
    whPts.push({ x: c, y: p.q3[i] }, { x: c, y: p.hi[i] }, { x: c, y: null }, { x: c, y: p.q1[i] }, { x: c, y: p.lo[i] }, { x: c, y: null });
  }
  p.brkFrom.forEach((f, j) => {
    const t = p.brkTo[j];
    const target = p.brkTip[j] === p.brkY[j] ? topPts : brkPts;
    target.push({ x: f, y: p.brkTip[j] }, { x: f, y: p.brkY[j] }, { x: t, y: p.brkY[j] }, { x: t, y: p.brkTip[j] }, { x: t, y: null });
  });
  const dots = [];
  p.vals.forEach((arr, g) => arr.forEach((v, k) => dots.push({ x: g + 1 + p.jit[g][k], y: v })));
  const line = (data, col, w) => ({ data, showLine: true, pointRadius: 0, borderColor: col, borderWidth: w, spanGaps: false });
  const axisGrid = { display: true, drawOnChartArea: false, drawTicks: true, tickLength: 3, color: '#333' };
  new Chart(document.getElementById(id), {
    type: 'scatter',
    data: {
      datasets: [
        line(whPts, '#333', 1), line(boxPts, '#333', 1), line(medPts, '#111', 2),
        { data: dots, pointRadius: 2.1, backgroundColor: '#000', borderWidth: 0 },
        line(brkPts, '#555', 1), line(topPts, '#999', 1)
      ]
    },
    options: {
      layout: { padding: p.pad },
      plugins: {
        deltaTitle: { text: p.title, x: p.titleX, size: 11 },
        dataText: {
          items: p.brkText.map((t, j) => ({
            text: t, x: (p.brkFrom[j] + p.brkTo[j]) / 2, y: p.brkY[j], size: 8.8, color: '#333', baseline: 'bottom', dy: -1
          }))
        }
      },
      scales: {
        x: {
          type: 'linear', min: 0.4, max: 3.6,
          afterBuildTicks: s => { s.ticks = boxCats.map((_, i) => ({ value: i + 1 })); },
          afterFit: s => { s.height = p.xH; },
          ticks: { callback: (v, i) => boxCats[i], autoSkip: false, maxRotation: 0, color: '#1a1a1a', font: { size: 10 }, padding: 1 },
          grid: axisGrid,
          border: { display: true, color: '#000', width: 1 }
        },
        y: {
          type: p.log ? 'logarithmic' : 'linear', min: p.min, max: p.max,
          afterBuildTicks: s => { s.ticks = p.ticks.map(v => ({ value: v })); },
          afterFit: s => { s.width = p.yW; },
          ticks: { callback: (v, i) => p.tickLabels[i], autoSkip: false, color: '#1a1a1a', font: { size: 9.5 }, padding: 2 },
          grid: axisGrid,
          border: { display: true, color: '#000', width: 1 }
        }
      }
    }
  });
}

boxChart('boxD', {
  log: false, min: -0.65, max: 52.1, ticks: dTicks, tickLabels: dTickLabels,
  lo: dLo, q1: dQ1, med: dMed, q3: dQ3, hi: dHi,
  vals: [dHcVal, dBVal, dAnaVal], jit: [dHcJit, dBJit, dAnaJit],
  brkFrom: dBrkFrom, brkTo: dBrkTo, brkY: dBrkY, brkTip: dBrkTip, brkText: dBrkText,
  title: 'hsa\u2212miR\u2212451a', titleX: 18.3, yW: 46.7, xH: 14.3, pad: { top: 3.3, right: 3, bottom: 0, left: 0 }
});
boxChart('boxE', {
  log: true, min: 0.2113, max: 127.4, ticks: eTicks, tickLabels: eTickLabels,
  lo: eLo, q1: eQ1, med: eMed, q3: eQ3, hi: eHi,
  vals: [eHcVal, eBVal, eAnaVal], jit: [eHcJit, eBJit, eAnaJit],
  brkFrom: eBrkFrom, brkTo: eBrkTo, brkY: eBrkY, brkTip: eBrkTip, brkText: eBrkText,
  title: 'hsa\u2212miR\u2212486\u22125p', titleX: 11.7, yW: 50.7, xH: 15.7, pad: { top: 3.3, right: 0.3, bottom: 0, left: 0 }
});
boxChart('boxF', {
  log: true, min: 0.0227, max: 27.4, ticks: fTicks, tickLabels: fTickLabels,
  lo: fLo, q1: fQ1, med: fMed, q3: fQ3, hi: fHi,
  vals: [fHcVal, fBVal, fAnaVal], jit: [fHcJit, fBJit, fAnaJit],
  brkFrom: fBrkFrom, brkTo: fBrkTo, brkY: fBrkY, brkTip: fBrkTip, brkText: fBrkText,
  title: 'hsa\u2212miR\u2212484', titleX: 11.7, yW: 46, xH: 14.3, pad: { top: 8.7, right: 3.5, bottom: 5.7, left: 0 }
});
boxChart('boxG', {
  log: true, min: 0.0482, max: 110.7, ticks: gTicks, tickLabels: gTickLabels,
  lo: gLo, q1: gQ1, med: gMed, q3: gQ3, hi: gHi,
  vals: [gHcVal, gBVal, gAnaVal], jit: [gHcJit, gBJit, gAnaJit],
  brkFrom: gBrkFrom, brkTo: gBrkTo, brkY: gBrkY, brkTip: gBrkTip, brkText: gBrkText,
  title: 'hsa\u2212miR\u221225\u22123p', titleX: 9.3, yW: 50.7, xH: 14.3, pad: { top: 8.7, right: 0.3, bottom: 4.7, left: 0 }
});
</script>
</body>
</html>
